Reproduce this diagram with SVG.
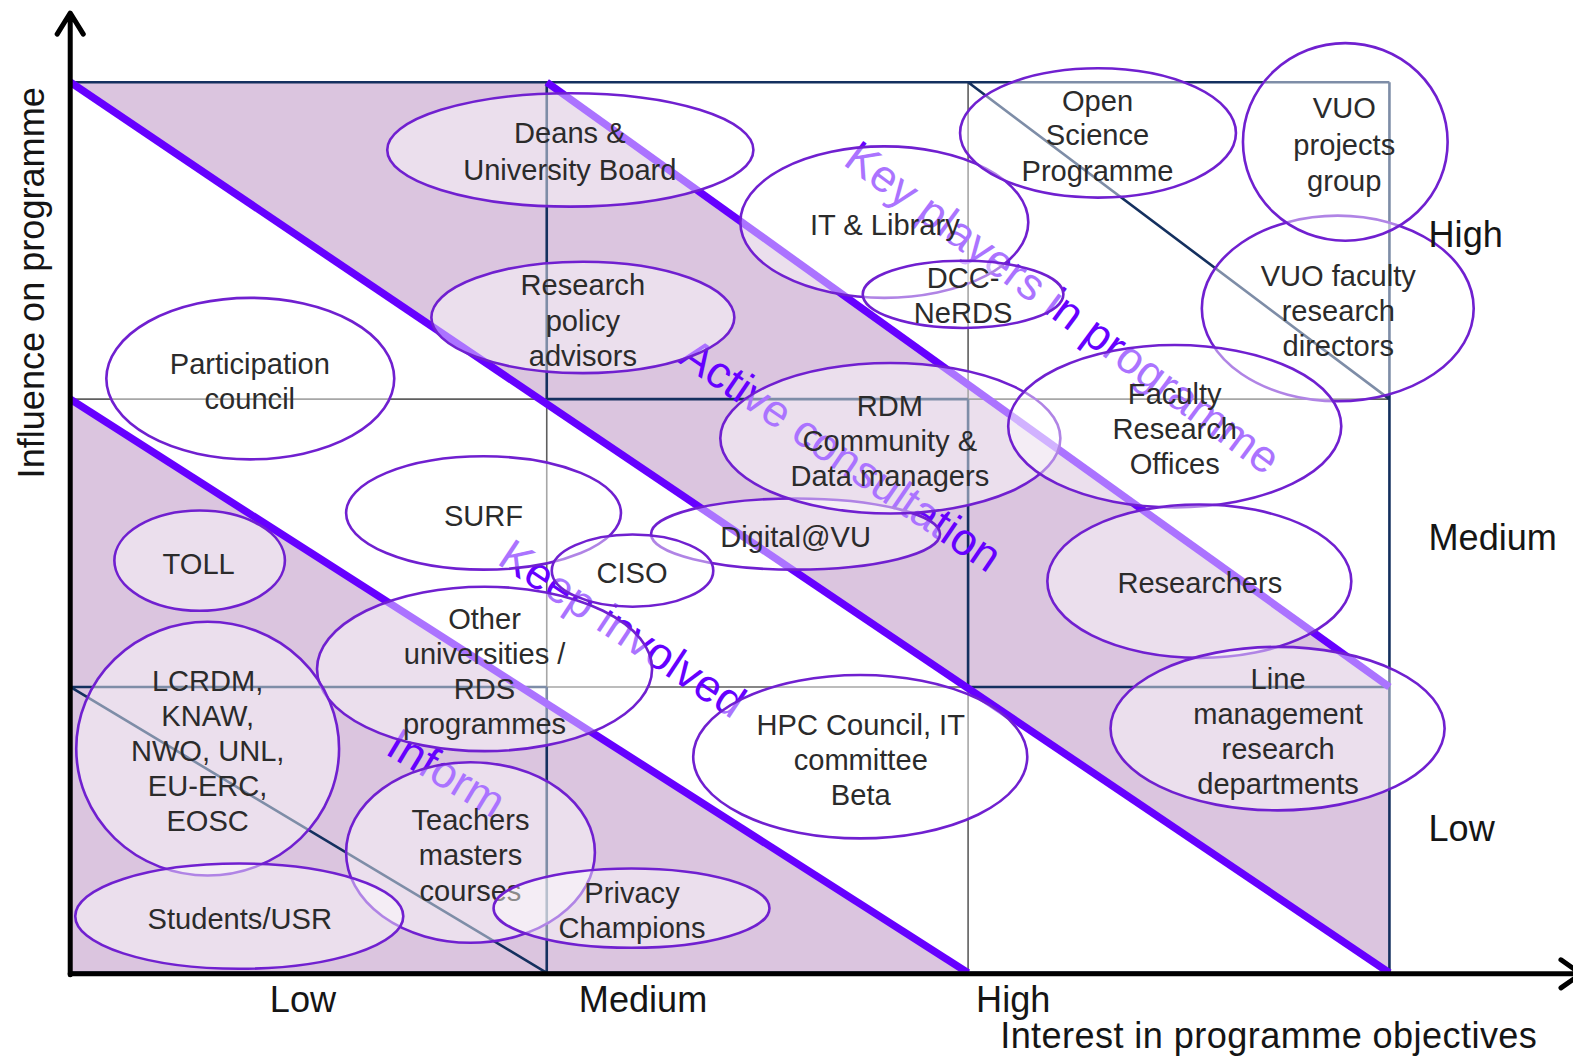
<svg xmlns="http://www.w3.org/2000/svg" width="1573" height="1056" viewBox="0 0 1573 1056">
  <style>
    .band { fill: #dbc5df; stroke: none; }
    .navy { stroke: #14305f; stroke-width: 2.6; fill: none; }
    .grey { stroke: #5f5f5f; stroke-width: 1.6; fill: none; }
    .split { stroke: #6600ff; stroke-width: 7.5; fill: none; }
    .axis { stroke: #000; stroke-width: 5; fill: none; stroke-linecap: round; stroke-linejoin: round; }
    .zone { font-family: "Liberation Sans", Arial, sans-serif; font-size: 45px; fill: #6600ff; text-anchor: middle; }
    .lbl { font-family: "Liberation Sans", Arial, sans-serif; font-size: 36px; fill: #151515; }
    .node ellipse { fill: #fff; fill-opacity: 0.45; stroke: #7020d0; stroke-width: 2.6; }
    .node text { font-family: "Liberation Sans", Arial, sans-serif; font-size: 29px; fill: #2b2b2b; text-anchor: middle; }
  </style>
  <g transform="scale(1.0032 1.0029)">
    <!-- quadrant grid with shaded bands -->
    <g id="grid">
      <polygon class="band" points="70,82 545,82 1385,685 1385,970"/>
      <polygon class="band" points="70,398 965,970 70,970"/>
      <path class="grey" d="M70,398H545 M965,398H1385 M545,398V685 M965,82V398 M965,685V970 M545,685H965"/>
      <path class="navy" d="M70,82H1385 M70,82V970 M1385,82V970 M545,82V398 M545,685V970 M545,398H965 M965,398V685 M70,685H545 M965,685H1385 M70,970H1385 M965,82L1385,398 M70,685L545,970"/>
    </g>
    <!-- band dividers -->
    <g id="connectors">
      <line class="split" x1="70" y1="82" x2="1385" y2="970"/>
      <line class="split" x1="545" y1="82" x2="1385" y2="685"/>
      <line class="split" x1="70" y1="398" x2="965" y2="970"/>
    </g>
    <!-- band names -->
    <g id="zone-labels">
      <text class="zone" transform="translate(1060,306) rotate(36.4)" dy="0.36em">Key players in programme</text>
      <text class="zone" transform="translate(839,453) rotate(34.3)" dy="0.36em">Active consultation</text>
      <text class="zone" transform="translate(621,626) rotate(33.5)" dy="0.36em">Keep involved</text>
      <text class="zone" transform="translate(445.5,770) rotate(31)" dy="0.36em">Inform</text>
    </g>
    <!-- axes -->
    <g id="axes">
      <path class="axis" d="M70,972V14 M57,34L70,13L83,34"/>
      <path class="axis" d="M70,971H1570 M1556,957L1576,971L1556,985"/>
    </g>
    <!-- stakeholders -->
    <g id="deans" class="node">
      <ellipse cx="568.5" cy="149.5" rx="182.5" ry="56.5"/>
      <text x="568" y="143">Deans &amp;</text>
      <text x="568" y="179">University Board</text>
    </g>
    <g id="policy-advisors" class="node">
      <ellipse cx="581" cy="316.5" rx="151" ry="55.5"/>
      <text x="581" y="294">Research</text>
      <text x="581" y="330">policy</text>
      <text x="581" y="365">advisors</text>
    </g>
    <g id="participation-council" class="node">
      <ellipse cx="249.5" cy="377.5" rx="143.5" ry="80.5"/>
      <text x="249" y="373">Participation</text>
      <text x="249" y="408">council</text>
    </g>
    <g id="it-library" class="node">
      <ellipse cx="881.5" cy="221.5" rx="143.5" ry="75.5"/>
      <text x="882" y="234">IT &amp; Library</text>
    </g>
    <g id="dcc-nerds" class="node">
      <ellipse cx="960" cy="293.5" rx="100" ry="33.5"/>
      <text x="960" y="287">DCC-</text>
      <text x="960" y="322">NeRDS</text>
    </g>
    <g id="open-science" class="node">
      <ellipse cx="1094.5" cy="132.5" rx="137.5" ry="64.5"/>
      <text x="1094" y="111">Open</text>
      <text x="1094" y="145">Science</text>
      <text x="1094" y="180">Programme</text>
    </g>
    <g id="vuo-faculty" class="node">
      <ellipse cx="1333.5" cy="307.5" rx="135.5" ry="92.5"/>
      <text x="1334" y="285">VUO faculty</text>
      <text x="1334" y="320">research</text>
      <text x="1334" y="355">directors</text>
    </g>
    <g id="vuo-projects" class="node">
      <ellipse cx="1341" cy="141.5" rx="102" ry="98.5"/>
      <text x="1340" y="118">VUO</text>
      <text x="1340" y="155">projects</text>
      <text x="1340" y="190">group</text>
    </g>
    <g id="digital-vu" class="node">
      <ellipse cx="793" cy="532.5" rx="144" ry="35.5"/>
      <text x="793" y="545">Digital@VU</text>
    </g>
    <g id="rdm-community" class="node">
      <ellipse cx="887.5" cy="437" rx="169.5" ry="75"/>
      <text x="887" y="415">RDM</text>
      <text x="887" y="450">Community &amp;</text>
      <text x="887" y="485">Data managers</text>
    </g>
    <g id="faculty-offices" class="node">
      <ellipse cx="1171" cy="425" rx="166" ry="81"/>
      <text x="1171" y="403">Faculty</text>
      <text x="1171" y="438">Research</text>
      <text x="1171" y="473">Offices</text>
    </g>
    <g id="surf" class="node">
      <ellipse cx="482" cy="511.5" rx="137" ry="56.5"/>
      <text x="482" y="524">SURF</text>
    </g>
    <g id="toll" class="node">
      <ellipse cx="199" cy="559" rx="85" ry="50"/>
      <text x="198" y="572">TOLL</text>
    </g>
    <g id="other-universities" class="node">
      <ellipse cx="483" cy="667" rx="167" ry="82"/>
      <text x="483" y="627">Other</text>
      <text x="483" y="662">universities /</text>
      <text x="483" y="697">RDS</text>
      <text x="483" y="732">programmes</text>
    </g>
    <g id="ciso" class="node">
      <ellipse cx="630.5" cy="569" rx="80.5" ry="36"/>
      <text x="630" y="581">CISO</text>
    </g>
    <g id="researchers" class="node">
      <ellipse cx="1195.5" cy="579.5" rx="151.5" ry="76.5"/>
      <text x="1196" y="591">Researchers</text>
    </g>
    <g id="line-management" class="node">
      <ellipse cx="1273.5" cy="726.5" rx="166.5" ry="81.5"/>
      <text x="1274" y="687">Line</text>
      <text x="1274" y="722">management</text>
      <text x="1274" y="757">research</text>
      <text x="1274" y="792">departments</text>
    </g>
    <g id="hpc-council" class="node">
      <ellipse cx="857.5" cy="754.5" rx="166.5" ry="81.5"/>
      <text x="858" y="733">HPC Council, IT</text>
      <text x="858" y="768">committee</text>
      <text x="858" y="803">Beta</text>
    </g>
    <g id="funders" class="node">
      <ellipse cx="207" cy="746.5" rx="131" ry="126.5"/>
      <text x="207" y="689">LCRDM,</text>
      <text x="207" y="724">KNAW,</text>
      <text x="207" y="759">NWO, UNL,</text>
      <text x="207" y="794">EU-ERC,</text>
      <text x="207" y="829">EOSC</text>
    </g>
    <g id="teachers" class="node">
      <ellipse cx="469" cy="850" rx="124" ry="90"/>
      <text x="469" y="828">Teachers</text>
      <text x="469" y="863">masters</text>
      <text x="469" y="898">courses</text>
    </g>
    <g id="students" class="node">
      <ellipse cx="238.5" cy="913.5" rx="163.5" ry="52.5"/>
      <text x="239" y="926">Students/USR</text>
    </g>
    <g id="privacy-champions" class="node">
      <ellipse cx="629.5" cy="905.5" rx="137.5" ry="39.5"/>
      <text x="630" y="900">Privacy</text>
      <text x="630" y="935">Champions</text>
    </g>
    <!-- axis titles and levels -->
    <g id="axis-labels" class="lbl">
      <text transform="translate(44,282) rotate(-90)" text-anchor="middle">Influence on programme</text>
      <text x="302" y="1009" text-anchor="middle">Low</text>
      <text x="641" y="1009" text-anchor="middle">Medium</text>
      <text x="973" y="1009">High</text>
      <text x="1264.5" y="1045" text-anchor="middle" textLength="535" lengthAdjust="spacing">Interest in programme objectives</text>
      <text x="1424" y="246">High</text>
      <text x="1424" y="548">Medium</text>
      <text x="1424" y="839">Low</text>
    </g>
  </g>
</svg>
